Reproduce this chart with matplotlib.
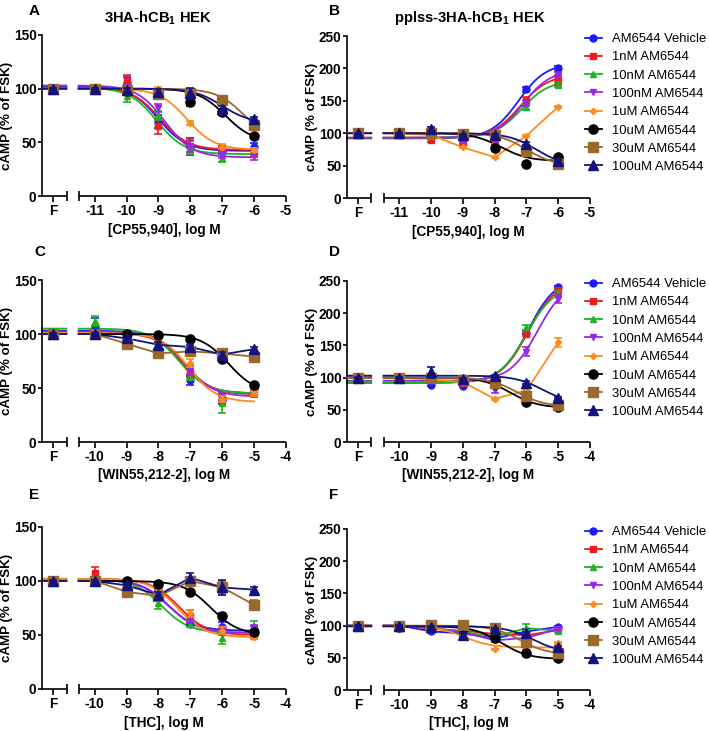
import numpy as np
import matplotlib
matplotlib.use("Agg")
import matplotlib.pyplot as plt
from matplotlib.lines import Line2D
import matplotlib.transforms as mtransforms

plt.rcParams['font.family'] = ['Liberation Sans', 'DejaVu Sans']
plt.rcParams['mathtext.fontset'] = 'custom'
plt.rcParams['mathtext.rm'] = 'Liberation Sans:bold'
plt.rcParams['mathtext.bf'] = 'Liberation Sans:bold'
plt.rcParams['mathtext.it'] = 'Liberation Sans:bold'

# ---------------- data ----------------
series_labels = ["AM6544 Vehicle", "1nM AM6544", "10nM AM6544", "100nM AM6544",
                 "1uM AM6544", "10uM AM6544", "30uM AM6544", "100uM AM6544"]
series_colors = ["#1a1aff", "#ee1c1c", "#1fb41f", "#9b27e6", "#ff8c1a",
                 "#000000", "#9a6a2c", "#13137f"]
series_markers = ["o", "s", "^", "v", "D", "o", "s", "^"]

xticks_cp = [-11, -10, -9, -8, -7, -6, -5]
xticks_win = [-10, -9, -8, -7, -6, -5, -4]
xdata_cp = [-11, -10, -9, -8, -7, -6]
xdata_win = [-10, -9, -8, -7, -6, -5]

# values: first column is the FSK-alone point "F"
A_values = [[100, 100, 105, 69, 46, 42, 46],
            [100, 100, 108, 65, 47, 44, 40],
            [100, 100, 93, 75, 45, 35, 41],
            [100, 100, 101, 82, 46, 38, 37],
            [100, 100, 100, 100, 68, 46, 43],
            [100, 100, 98, 96, 88, 78, 56],
            [100, 100, 99, 95, 96, 89, 66],
            [100, 100, 99, 97, 96, 81, 72]]
A_errors = [[2, 2, 6, 6, 8, 3, 3], [2, 1, 5, 7, 6, 3, 4], [3, 2, 5, 4, 6, 3, 3],
            [1, 1, 3, 4, 5, 3, 3], [1, 1, 1, 2, 2, 2, 2], [1, 1, 2, 3, 4, 3, 2],
            [1, 1, 2, 2, 3, 2, 2], [1, 1, 2, 3, 5, 3, 2]]
# fit: [bottom, top, logEC50, hill]  (None = points connected)
A_fits = [[42, 102, -9.0, -1], [43, 101, -8.95, -1], [39, 101, -9.05, -1],
          [36, 103, -8.8, -1], [43, 100, -8.1, -1], [50, 100, -6.9, -1],
          [50, 100, -6.3, -1], [68, 100, -7.0, -1]]

B_values = [[100, 100, 94, 91, 95, 168, 200],
            [100, 100, 90, 87, 83, 150, 182],
            [100, 100, 95, 92, 80, 140, 175],
            [100, 100, 95, 90, 85, 147, 190],
            [100, 100, 97, 78, 63, 96, 141],
            [100, 100, 100, 97, 77, 53, 63],
            [100, 100, 100, 99, 97, 73, 52],
            [100, 100, 107, 97, 97, 84, 57]]
B_errors = [[2, 2, 3, 3, 4, 4, 4], [2, 2, 3, 3, 5, 6, 8], [2, 2, 2, 3, 4, 4, 4],
            [2, 2, 2, 3, 3, 5, 4], [1, 1, 1, 1, 1, 1, 1], [1, 1, 1, 1, 2, 2, 2],
            [1, 1, 2, 2, 2, 2, 2], [1, 1, 3, 2, 2, 2, 2]]
B_fits = [[92, 208, -7.25, 1], [93, 190, -7.2, 1], [93, 182, -7.15, 1],
          [93, 198, -7.1, 1], None, [57, 100, -7.8, -1],
          [50, 100, -7.0, -1], [50, 100, -6.7, -1]]

C_values = [[100, 107, 100, 87, 57, 39, 50],
            [100, 100, 98, 88, 64, 41, 46],
            [102, 112, 101, 91, 60, 36, 52],
            [100, 100, 100, 95, 66, 42, 44],
            [100, 100, 100, 97, 73, 40, 45],
            [100, 100, 100, 99, 95, 77, 53],
            [100, 100, 91, 82, 84, 82, 79],
            [100, 100, 96, 90, 88, 81, 86]]
C_errors = [[1, 8, 2, 6, 4, 4, 3], [1, 2, 2, 4, 4, 4, 3], [2, 5, 2, 3, 3, 9, 3],
            [1, 2, 2, 3, 4, 3, 2], [1, 1, 1, 3, 4, 3, 2], [1, 1, 1, 1, 2, 2, 2],
            [1, 1, 2, 2, 3, 2, 2], [1, 1, 2, 3, 2, 2, 2]]
C_fits = [[45, 103, -7.3, -1], [44, 101, -7.2, -1], [45, 105, -7.35, -1],
          [42, 102, -7.15, -1], [37, 101, -7.05, -1], [45, 100, -5.8, -1],
          None, None]

D_values = [[100, 100, 89, 87, 88, 170, 240],
            [100, 100, 99, 92, 90, 168, 236],
            [100, 100, 100, 95, 92, 178, 230],
            [100, 100, 98, 94, 80, 140, 222],
            [100, 100, 97, 93, 67, 80, 155],
            [100, 100, 100, 97, 90, 62, 54],
            [100, 100, 100, 97, 92, 71, 58],
            [100, 100, 108, 98, 102, 92, 68]]
D_errors = [[2, 2, 2, 2, 2, 3, 2], [2, 2, 2, 2, 3, 4, 3], [2, 2, 2, 2, 3, 4, 4],
            [2, 2, 2, 2, 4, 7, 6], [1, 1, 1, 1, 2, 3, 7], [1, 1, 1, 2, 2, 2, 2],
            [1, 1, 1, 2, 2, 2, 2], [1, 1, 9, 2, 2, 2, 2]]
D_fits = [[92, 255, -5.95, 1], [92, 250, -5.95, 1], [92, 243, -6.0, 1],
          [95, 250, -5.65, 1], None, [53, 100, -6.5, -1],
          [55, 100, -6.3, -1], [60, 103, -5.5, -1]]

E_values = [[100, 100, 95, 92, 60, 57, 55],
            [100, 107, 100, 95, 68, 55, 49],
            [101, 101, 100, 80, 60, 47, 58],
            [100, 100, 98, 88, 64, 53, 56],
            [100, 101, 100, 92, 70, 54, 48],
            [100, 100, 100, 97, 90, 68, 53],
            [100, 100, 90, 86, 100, 94, 78],
            [100, 100, 96, 87, 103, 94, 92]]
E_errors = [[1, 2, 2, 3, 2, 5, 3], [1, 6, 2, 3, 5, 3, 2], [2, 2, 2, 6, 3, 5, 5],
            [1, 2, 2, 3, 3, 3, 3], [1, 1, 1, 2, 3, 3, 2], [1, 1, 1, 1, 2, 2, 2],
            [1, 2, 2, 2, 4, 6, 4], [1, 1, 2, 3, 4, 7, 2]]
E_fits = [[54, 101, -7.7, -1], [50, 102, -7.35, -1], [52, 102, -7.9, -1],
          [52, 101, -7.65, -1], [48, 102, -7.4, -1], [50, 100, -6.35, -1],
          None, None]

F_values = [[100, 100, 91, 88, 80, 91, 98],
            [100, 100, 95, 92, 87, 85, 93],
            [100, 100, 97, 90, 83, 96, 92],
            [100, 100, 96, 90, 77, 81, 95],
            [100, 100, 97, 83, 63, 63, 73],
            [100, 98, 98, 96, 81, 57, 49],
            [100, 100, 101, 101, 96, 75, 58],
            [100, 100, 98, 85, 95, 88, 66]]
F_errors = [[1, 1, 2, 2, 2, 3, 2], [1, 1, 2, 2, 2, 2, 2], [1, 1, 2, 2, 2, 6, 2],
            [1, 1, 2, 2, 2, 2, 2], [1, 1, 1, 1, 1, 1, 1], [1, 1, 1, 1, 2, 2, 2],
            [1, 1, 2, 2, 2, 2, 2], [1, 1, 2, 3, 2, 2, 2]]
F_fits = [None, None, None, None, [66, 100, -8.0, -1], [48, 99, -6.8, -1],
          [55, 100, -6.2, -1], [58, 99, -5.8, -1]]

# ---------------- style ----------------
marker_sizes = [5, 5, 5, 5, 3.2, 6.6, 6.6, 6.6]
W, H = 709, 731
fig = plt.figure(figsize=(W / 100, H / 100), dpi=100)

BOLD = dict(fontweight='bold')
LW = 1.2

def px_rect(left, top, right, bottom):
    return [left / W, 1 - bottom / H, (right - left) / W, (bottom - top) / H]


def draw_panel(rect, values, errors, fits, xdata, xticks, ymax, xlabel,
               letter, letter_xy, title=None, title_x=None, legend=False):
    ax = fig.add_axes(rect)
    first = xticks[0]
    xF = first - 1.3
    xl = first - 1.65
    b1 = first - 0.88
    b2 = first - 0.5
    xr = xticks[-1]
    ax.set_xlim(xl, xr)
    ax.set_ylim(0, ymax)
    for s in ['top', 'right', 'bottom']:
        ax.spines[s].set_visible(False)
    ax.spines['left'].set_linewidth(LW)
    trans = mtransforms.blended_transform_factory(ax.transData, ax.transAxes)
    ax.plot([xl, b1], [0, 0], color='k', lw=LW, transform=trans, clip_on=False,
            solid_capstyle='butt')
    ax.plot([b2, xr], [0, 0], color='k', lw=LW, transform=trans, clip_on=False,
            solid_capstyle='butt')
    ax.plot([b1, b2], [0, 0], linestyle='none', marker='|', ms=7, mew=LW,
            color='k', transform=trans, clip_on=False)

    ax.set_xticks([xF] + list(xticks))
    ax.set_xticklabels(['F'] + [str(t) for t in xticks], **BOLD)
    step = 50
    yt = list(range(0, ymax + 1, step))
    ax.set_yticks(yt)
    ax.set_yticklabels([str(v) for v in yt], **BOLD)
    ax.tick_params(axis='x', direction='out', length=4, width=LW,
                   labelsize=9.8, pad=2)
    ax.tick_params(axis='y', direction='out', length=3, width=LW,
                   labelsize=9.8, pad=1)
    ax.set_xlabel(xlabel, fontsize=9.8, labelpad=3, **BOLD)
    ax.set_ylabel('cAMP (% of FSK)', fontsize=9.6, **BOLD)
    ax.yaxis.set_label_coords(-0.118, 0.5)

    xpts = np.array([xF] + list(xdata), dtype=float)
    xs = np.linspace(xl, xdata[-1], 700)
    gap = (xs > b1) & (xs < b2)
    for i in range(8):
        col = series_colors[i]
        y = np.array(values[i], dtype=float)
        e = np.array(errors[i], dtype=float)
        f = fits[i]
        if f is None:
            ys = np.interp(xs, xpts, y)
        else:
            bot, top, ec, hill = f
            ys = bot + (top - bot) / (1 + 10 ** ((ec - xs) * hill))
        ys = ys.copy()
        ys[gap] = np.nan
        ax.plot(xs, ys, color=col, lw=1.3, zorder=2 + i * 0.1, clip_on=False)
        ax.errorbar(xpts, y, yerr=e, fmt=series_markers[i], color=col,
                    ms=marker_sizes[i], mec=col, mfc=col, elinewidth=1.2,
                    capsize=2.6, capthick=1.2, zorder=4 + i * 0.1,
                    clip_on=False)

    fig.text(letter_xy[0] / W, 1 - letter_xy[1] / H, letter, fontsize=11,
             ha='center', va='center', **BOLD)
    if title is not None:
        fig.text(title_x / W, 1 - 18 / H, title, fontsize=10.6, ha='center',
                 va='center', **BOLD)
    if legend:
        handles = [Line2D([], [], color=series_colors[i], marker=series_markers[i],
                          ms=marker_sizes[i], lw=1.3) for i in range(8)]
        top_px = rect[1] + rect[3]
        ax.legend(handles, series_labels, loc='upper left',
                  bbox_to_anchor=(585 / W, top_px + 3 / H),
                  bbox_transform=fig.transFigure, frameon=False,
                  borderaxespad=0, borderpad=0, handlelength=1.3,
                  handletextpad=0.75, labelspacing=0.47, fontsize=9.4)
    return ax


draw_panel(px_rect(42, 35, 286, 196), A_values, A_errors, A_fits, xdata_cp,
           xticks_cp, 150, '[CP55,940], log M', 'A', (34, 11),
           title='3HA-hCB$_1$ HEK', title_x=158)
draw_panel(px_rect(347, 36, 590, 198), B_values, B_errors, B_fits, xdata_cp,
           xticks_cp, 250, '[CP55,940], log M', 'B', (335, 11),
           title='pplss-3HA-hCB$_1$ HEK', title_x=470, legend=True)
draw_panel(px_rect(42, 280, 286, 442), C_values, C_errors, C_fits, xdata_win,
           xticks_win, 150, '[WIN55,212-2], log M', 'C', (40, 252))
draw_panel(px_rect(347, 281, 590, 442), D_values, D_errors, D_fits, xdata_win,
           xticks_win, 250, '[WIN55,212-2], log M', 'D', (334, 252), legend=True)
draw_panel(px_rect(42, 527, 286, 689), E_values, E_errors, E_fits, xdata_win,
           xticks_win, 150, '[THC], log M', 'E', (34, 495))
draw_panel(px_rect(347, 529, 590, 690), F_values, F_errors, F_fits, xdata_win,
           xticks_win, 250, '[THC], log M', 'F', (334, 495), legend=True)

fig.savefig('out.png', dpi=100)
